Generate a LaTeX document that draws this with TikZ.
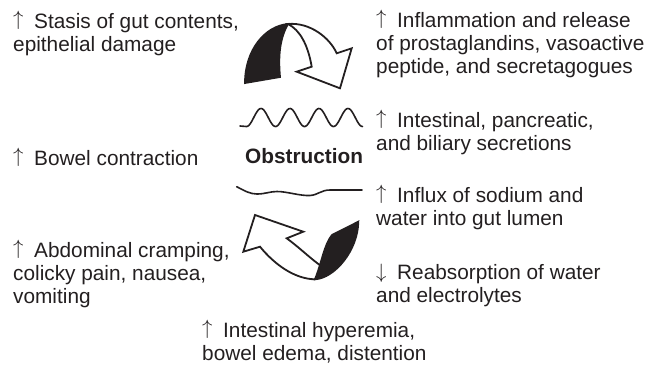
\documentclass[tikz,border=0pt]{standalone}
\usepackage{fontspec}
\setmainfont{Liberation Sans}
\definecolor{ink}{RGB}{35,31,32}
\newcommand{\uparr}{\hbox to 21pt{\raisebox{3pt}{$\uparrow$}\hfil}}
\newcommand{\dnarr}{\hbox to 21pt{\raisebox{1pt}{$\downarrow$}\hfil}}
\begin{document}
\begin{tikzpicture}[x=1pt,y=-1pt,
  txt/.style={inner sep=0pt, anchor=base west, align=left, text=ink,
    font=\fontsize{20.8}{23}\selectfont},
  ribbon/.style={draw=ink, line width=1.8pt, line join=miter},
  wave/.style={draw=ink, line width=1.6pt, line cap=round}]
\useasboundingbox (0,0) rectangle (662,368);

% ---- top curved arrow ----
\path[ribbon, fill=white] (288,24) .. controls (310,22) and (330,38) .. (336.7,53.3)
  -- (351.7,48.3) -- (340,88.3) -- (296.7,71.7) -- (311.7,66.7)
  .. controls (308,45) and (300,30) .. (288,24) -- cycle;
\path[ribbon, fill=ink] (245,83) .. controls (245,50) and (265,26) .. (288,24)
  .. controls (280,38) and (278,55) .. (280,77) -- cycle;

% ---- bottom curved arrow ----
\path[ribbon, fill=white] (255,215) -- (303.3,231.7) -- (286.7,238.3)
  .. controls (300,248) and (312,260) .. (323,267.3) -- (315,279.3)
  .. controls (295,279) and (275,265) .. (260,246.7) -- (243.3,251.7) -- cycle;
\path[ribbon, fill=ink] (358.3,221.7) .. controls (358,250) and (335,278) .. (315,279.3)
  .. controls (322,262) and (324,245) .. (332,235) -- cycle;

% ---- wavy lines ----
\draw[wave] (240,126) -- (246.5,126.5)
  plot[domain=246.5:362.5, samples=120, smooth] (\x,{117.5-9*cos(12.4138*(\x-261))});
\draw[wave] (236.7,186.7) .. controls (245,191) and (250,194) .. (257,194)
  .. controls (265,194) and (270,191.5) .. (277,191.5)
  .. controls (287,191.5) and (300,196) .. (310,195.5)
  .. controls (318,195) and (321,190) .. (330,190) -- (362,190);

% ---- texts (anchor = baseline of the last line) ----
\node[txt] (stasis) at (13,51) {\uparr Stasis of gut contents,\\epithelial damage};
\node[txt] (bowel) at (13,165) {\uparr Bowel contraction};
\node[txt] (cramp) at (13,303) {\uparr Abdominal cramping,\\colicky pain, nausea,\\vomiting};
\node[txt] (infl) at (376,73) {\uparr Inflammation and release\\of prostaglandins, vasoactive\\peptide, and secretagogues};
\node[txt] (secr) at (376,150) {\uparr Intestinal, pancreatic,\\and biliary secretions};
\node[txt] (influx) at (376,225) {\uparr Influx of sodium and\\water into gut lumen};
\node[txt] (reabs) at (376,302) {\dnarr Reabsorption of water\\and electrolytes};
\node[txt] (hyper) at (202,360) {\uparr Intestinal hyperemia,\\bowel edema, distention};
\node[txt, font=\fontsize{20.8}{23}\selectfont\bfseries] (obs) at (245,163) {Obstruction};
\end{tikzpicture}
\end{document}
